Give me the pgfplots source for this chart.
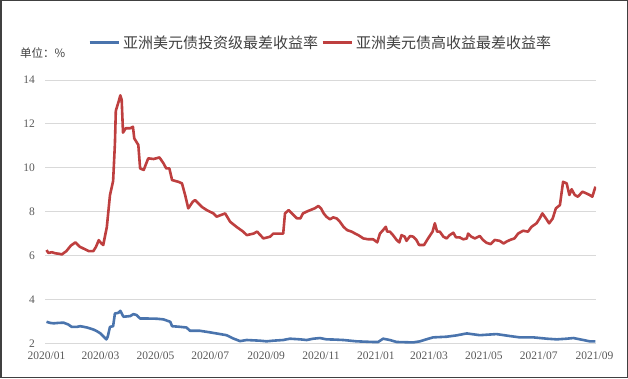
\documentclass[border=0pt]{standalone}
\usepackage{fontspec}
\setmainfont{Liberation Serif}
\newfontfamily\cjk{Noto Sans CJK SC}
\usepackage{pgfplots}
\pgfplotsset{compat=1.18}
\definecolor{ig}{HTML}{4A74AD}
\definecolor{hy}{HTML}{BE3F3F}
\definecolor{gridgray}{HTML}{D9D9D9}
\definecolor{tickgray}{HTML}{595959}
\definecolor{txtgray}{HTML}{404040}
\begin{document}
\begin{tikzpicture}[x=1pt,y=1pt]
\draw[line width=1.5pt, color=txtgray] (0.75,0.75) rectangle (627.25,377.25);
\node[anchor=west, inner sep=0pt, text=txtgray, font=\cjk\fontsize{11.5}{12}\selectfont] at (20,325) {单位：\%};
\begin{axis}[
  at={(45pt,34.7pt)}, anchor=south west, scale only axis,
  width=551pt, height=263.3pt,
  xmin=-1.7, xmax=610.6, ymin=2, ymax=14,
  xtick={0,60,121,182,244,305,366,425,486,547,609},
  xticklabels={2020/01,2020/03,2020/05,2020/07,2020/09,2020/11,2021/01,2021/03,2021/05,2021/07,2021/09},
  ytick={2,4,6,8,10,12,14},
  ymajorgrids, grid style={line width=0.8pt, color=gridgray},
  axis line style={draw=none}, major tick length=0pt,
  /pgf/number format/assume math mode=true,
  tick label style={font=\fontsize{11.5}{12}\selectfont, text=tickgray},
  yticklabel style={anchor=east, inner sep=0pt, xshift=-10pt},
  xticklabel style={anchor=north, inner sep=0pt, yshift=-8pt},
  legend columns=2,
  legend style={draw=none, fill=none, inner sep=0pt, at={(axis description cs:0.078,1.1417)}, anchor=west,
    font=\cjk\fontsize{15}{16}\selectfont, text=txtgray,
    nodes={inner sep=0pt}, column sep=3pt},
  legend image code/.code={\draw[#1, line width=3pt] (0pt,0pt) -- (29pt,0pt);},
  every axis plot/.append style={line width=2.6pt, line join=round},
]
\addplot[ig] coordinates {
(0,2.98) (4,2.93) (8,2.91) (13,2.93) (19,2.94) (24,2.86) (28,2.75) (34,2.75) (37.5,2.78) (45,2.72) (52,2.63) (56,2.55) (60,2.45) (63.5,2.3) (66.5,2.18) (68,2.3) (70.5,2.75) (74,2.78) (76,3.36) (80,3.39) (82,3.48) (85.5,3.21) (93,3.24) (96.5,3.33) (100,3.29) (104,3.13) (111.5,3.13) (122.5,3.12) (130,3.09) (137.5,2.98) (139.5,2.78) (148.5,2.75) (155.5,2.72) (159.5,2.57) (170.5,2.57) (181.5,2.5) (193,2.42) (200,2.37) (207.5,2.22) (215,2.1) (222.5,2.15) (237,2.12) (244.5,2.09) (252,2.12) (263,2.15) (270.5,2.21) (282,2.18) (289,2.15) (296.5,2.21) (304,2.24) (311,2.18) (320,2.17) (330,2.15) (344.5,2.09) (363,2.06) (368.5,2.06) (374,2.21) (381.5,2.15) (389,2.06) (407.5,2.04) (415,2.09) (422,2.18) (429.5,2.27) (444.5,2.3) (455.5,2.36) (467,2.45) (481.5,2.37) (500,2.42) (515,2.33) (526,2.27) (541,2.27) (556,2.21) (567,2.18) (578,2.21) (585.5,2.24) (596.5,2.15) (603.5,2.09) (610,2.09)
};
\addlegendentry{亚洲美元债投资级最差收益率}
\addplot[hy] coordinates {
(0,6.25) (2,6.12) (6,6.15) (10,6.1) (14,6.08) (17,6.05) (22,6.2) (27,6.45) (32,6.6) (37,6.4) (42,6.3) (47,6.2) (52,6.2) (55,6.4) (58,6.7) (61,6.55) (63,6.48) (67,7.3) (70.5,8.75) (74,9.4) (76,11.1) (77,12.6) (80,13.0) (82,13.3) (83.5,13.1) (85,11.6) (88,11.8) (93,11.8) (96,11.87) (97.5,11.34) (102,11.04) (104,9.97) (108,9.9) (113,10.43) (119,10.4) (125.5,10.47) (130,10.2) (133,9.97) (136.5,9.97) (139.5,9.44) (146.5,9.36) (150.5,9.29) (154,8.76) (157.5,8.15) (162.5,8.45) (165,8.53) (172.5,8.22) (178,8.07) (185.5,7.92) (189,7.77) (198.5,7.92) (204,7.54) (211,7.31) (218.5,7.09) (222.5,6.93) (230,7.0) (234,7.09) (241,6.78) (248.5,6.86) (252,7.0) (263,7.0) (265,7.92) (269,8.07) (278,7.7) (282,7.69) (285,7.92) (289,8.0) (293,8.07) (298,8.15) (302,8.26) (305,8.15) (308,7.92) (311,7.77) (315,7.65) (318.5,7.74) (322.5,7.69) (326,7.54) (330,7.31) (334,7.16) (339,7.09) (343,7.0) (346.5,6.93) (352,6.78) (357.5,6.74) (363,6.74) (367.5,6.6) (370.5,7.0) (374,7.16) (377,7.31) (378.5,7.09) (381.5,7.09) (385,6.93) (389,6.71) (392,6.6) (394.5,6.93) (398,6.86) (400,6.67) (404,6.89) (407.5,6.86) (411,6.71) (414,6.48) (419.5,6.48) (424,6.78) (429,7.09) (431.5,7.47) (434,7.09) (437,7.09) (441,6.86) (444.5,6.78) (448,6.93) (452,7.04) (455,6.83) (459,6.83) (463,6.74) (467,6.78) (468.5,7.0) (472,6.86) (476,6.78) (481.5,6.89) (485,6.71) (489,6.58) (493.5,6.52) (498,6.71) (503.5,6.67) (508,6.55) (511,6.63) (515,6.71) (520,6.78) (524,7.0) (529.5,7.13) (535,7.09) (539,7.31) (544.5,7.47) (548,7.69) (551,7.92) (555,7.69) (558.5,7.47) (562.5,7.69) (566,8.15) (570.5,8.3) (574,9.36) (578,9.29) (581,8.76) (583.5,9.02) (587,8.76) (590.5,8.68) (595.5,8.91) (600,8.83) (603.5,8.76) (606.5,8.68) (610,9.14)
};
\addlegendentry{亚洲美元债高收益最差收益率}
\end{axis}
\end{tikzpicture}
\end{document}
